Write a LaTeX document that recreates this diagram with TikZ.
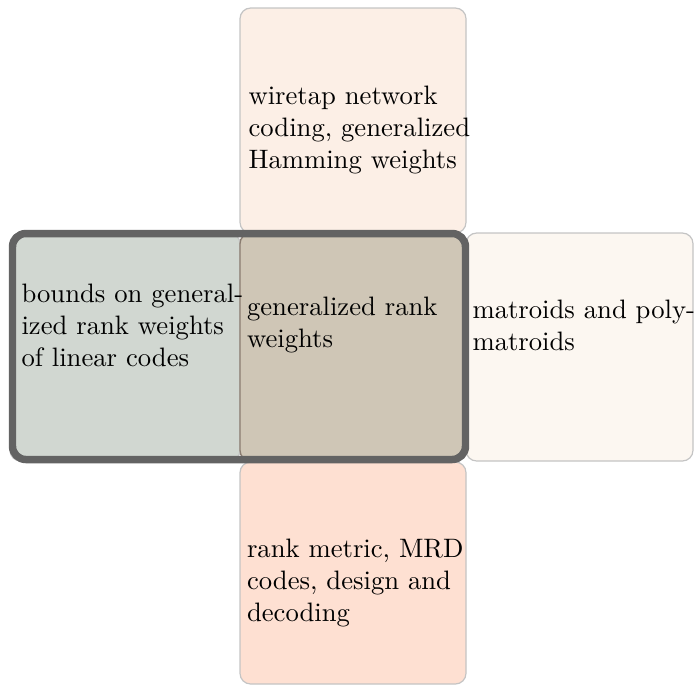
\documentclass[tikz,border=0pt]{standalone}
\begin{document}
\begin{tikzpicture}[x=0.375pt,y=-0.375pt,
  cell/.style={draw=cellborder,line width=0.45pt,rounded corners=4pt},
  lbl/.style={anchor=north west,inner sep=0pt,align=left,text=black}]
\definecolor{cellborder}{HTML}{C4C4C4}
\definecolor{ctop}{HTML}{FCEFE6}
\definecolor{cbot}{HTML}{FEE0D2}
\definecolor{cright}{HTML}{FCF7F1}
\definecolor{cleft}{HTML}{D1D7D1}
\definecolor{ccent}{HTML}{CFC6B6}
\definecolor{centborder}{HTML}{8A7C70}
\definecolor{framecol}{HTML}{636363}
\useasboundingbox (0,0) rectangle (695,685);
% cells
\path[cell,fill=ctop] (240,8) rectangle (466,233);
\path[cell,fill=cbot] (240,462) rectangle (466,684);
\path[cell,fill=cright] (466,233) rectangle (693,461);
\path[cell,fill=cleft] (10,233) rectangle (240,461);
\path[cell,fill=ccent,draw=centborder,line width=0.5pt] (240,233) rectangle (466,461);
% frame
\draw[framecol,line width=2.8pt,rounded corners=5pt] (12.5,233.5) rectangle (465.5,459.5);
% texts
\node[lbl] (ttop) at (248,85.5) {wiretap network\\coding, generalized\\Hamming weights};
\node[lbl] (tleft) at (21,283.5) {bounds on general-\\ized rank weights\\of linear codes};
\node[lbl] (tcent) at (246.5,296.5) {generalized rank\\weights};
\node[lbl] (tright) at (472,299.5) {matroids and poly-\\matroids};
\node[lbl] (tbot) at (246.5,538.5) {rank metric, MRD\\codes, design and\\decoding};
\end{tikzpicture}
\end{document}
